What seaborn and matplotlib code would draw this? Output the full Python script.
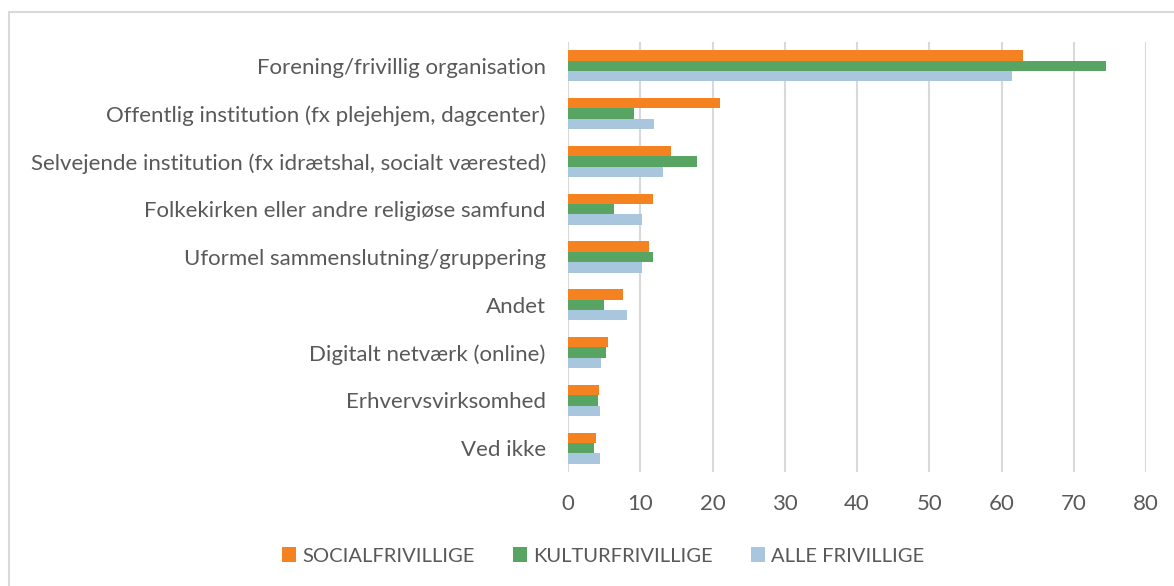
import matplotlib
matplotlib.use("Agg")
import matplotlib.pyplot as plt
import seaborn as sns
import pandas as pd
from matplotlib.patches import Rectangle, Patch

categories = [
    "Forening/frivillig organisation",
    "Offentlig institution (fx plejehjem, dagcenter)",
    "Selvejende institution (fx idrætshal, socialt værested)",
    "Folkekirken eller andre religiøse samfund",
    "Uformel sammenslutning/gruppering",
    "Andet",
    "Digitalt netværk (online)",
    "Erhvervsvirksomhed",
    "Ved ikke",
]
series_names = ["SOCIALFRIVILLIGE", "KULTURFRIVILLIGE", "ALLE FRIVILLIGE"]
social = [63.0, 21.1, 14.3, 11.8, 11.2, 7.6, 5.6, 4.3, 3.9]
kultur = [74.5, 9.1, 17.9, 6.3, 11.7, 5.0, 5.2, 4.2, 3.6]
alle = [61.5, 11.9, 13.1, 10.2, 10.2, 8.2, 4.5, 4.4, 4.4]
x_ticks = [0, 10, 20, 30, 40, 50, 60, 70, 80]

colors = ["#F58220", "#58A463", "#A9C6DF"]

rows = []
for name, vals in zip(series_names, [social, kultur, alle]):
    for c, v in zip(categories, vals):
        rows.append({"Kategori": c, "Serie": name, "Værdi": v})
df = pd.DataFrame(rows)

sns.set_theme(style="white")
plt.rcParams["font.family"] = ["Lato", "DejaVu Sans"]

fig = plt.figure(figsize=(11.74, 5.86), dpi=100)
ax = fig.add_axes([568 / 1174, 1 - 472 / 586, (1146 - 568) / 1174, (472 - 42) / 586])

sns.barplot(data=df, y="Kategori", x="Værdi", hue="Serie", order=categories,
            hue_order=series_names, palette=colors, orient="h", width=0.65,
            dodge=True, gap=0, saturation=1, ax=ax, legend=False, linewidth=0)

ax.set_xlim(0, 80)
ax.set_xticks(x_ticks)
ax.set_xticklabels([str(t) for t in x_ticks])
ax.set_xlabel("")
ax.set_ylabel("")
for s in ax.spines.values():
    s.set_visible(False)
ax.grid(axis="x", color="#D9D9D9", linewidth=1.5)
ax.grid(axis="y", visible=False)
ax.set_axisbelow(True)
ax.tick_params(axis="both", length=0, colors="#595959", labelsize=16)
ax.tick_params(axis="x", pad=16)
ax.tick_params(axis="y", pad=16)

handles = [Patch(facecolor=c, edgecolor="none") for c in colors]
fig.legend(handles, series_names, loc="center", bbox_to_anchor=(603 / 1174, 1 - 556 / 586),
           ncol=3, frameon=False, fontsize=14.5, labelcolor="#595959",
           handlelength=0.7, handleheight=0.7, handletextpad=0.3, columnspacing=1.9)

fig.patches.append(Rectangle((9 / 1174, -0.1), 1.2, 1.1 - 12 / 586, transform=fig.transFigure,
                             fill=False, edgecolor="#D9D9D9", linewidth=1.5))

fig.savefig("out.png", dpi=100)
